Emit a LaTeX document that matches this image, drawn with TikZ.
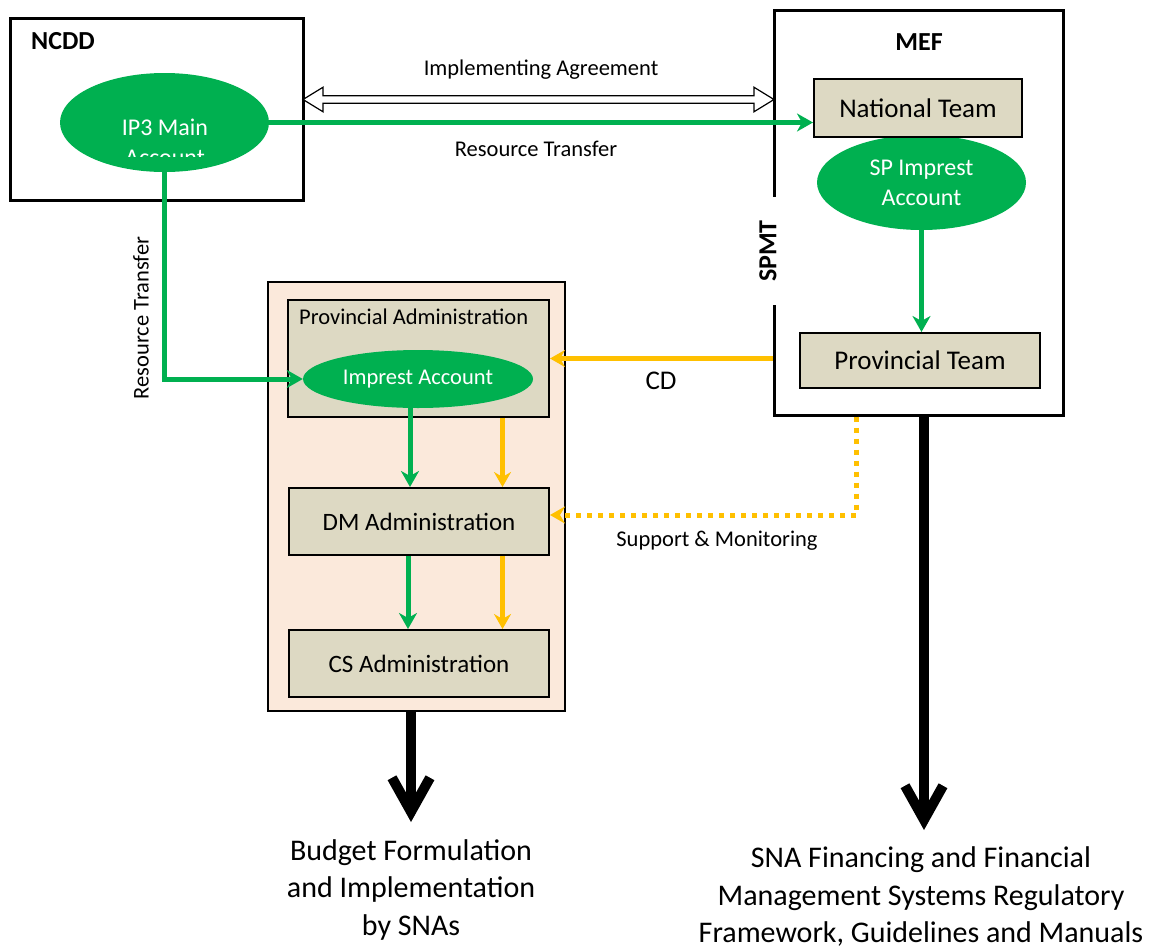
\documentclass[tikz,border=0pt]{standalone}
\usepackage{fontspec}
\setmainfont{Carlito}
\usetikzlibrary{shapes.geometric}
\usetikzlibrary{shapes.arrows}
\usetikzlibrary{arrows.meta}

\definecolor{accgreen}{RGB}{0,176,80}
\definecolor{accorange}{RGB}{255,192,0}
\definecolor{boxtan}{RGB}{221,217,195}
\definecolor{peach}{RGB}{251,233,219}

\begin{document}
\begin{tikzpicture}[x=1pt,y=1pt,yscale=-1,xscale=1,
  orgbox/.style={draw, line width=3pt, inner sep=0pt},
  tanbox/.style={draw, line width=2pt, fill=boxtan, inner sep=0pt},
  acct/.style={ellipse, fill=accgreen, inner sep=0pt, text=white, align=center, font=\fontsize{24}{30}\selectfont},
  gflow/.style={draw=accgreen, line width=5pt, -{Stealth[length=16pt,width=18pt,inset=5pt]}},
  oflow/.style={draw=accorange, line width=5pt, -{Stealth[length=15pt,width=17pt,inset=5pt]}},
  bigarrow/.style={line width=10pt, -{Straight Barb[length=34pt,width=38pt]}},
  lbl/.style={font=\fontsize{22.5}{27}\selectfont, inner sep=0pt},
  boxtxt/.style={font=\fontsize{25}{30}\selectfont},
  teamtxt/.style={font=\fontsize{27}{32}\selectfont},
  ttl/.style={font=\fontsize{26}{31}\selectfont\bfseries, inner sep=0pt},
  outtxt/.style={font=\fontsize{30}{37.5}\selectfont, align=center, inner sep=0pt}]
\useasboundingbox (0,0) rectangle (1159,948);

%NCDD
\node[orgbox, minimum width=293pt, minimum height=182pt] (ncdd) at (156.5,109) {};
\node[ttl] (ncddttl) at (63,41) {NCDD};
\node[acct, minimum width=209pt, minimum height=99pt] (ip3) at (164.5,122.5) {};
\begin{scope}
\clip (55,60) rectangle (275,156);
\node[acct, fill=none] (ip3txt) at (165,142) {IP3 Main\\Account};
\end{scope}

%MEF
\node[orgbox, minimum width=289pt, minimum height=405pt] (mef) at (918.5,212.5) {};
\node[ttl] (mefttl) at (919,42) {MEF};
\node[ttl, rotate=90, fill=white, minimum width=108pt, inner ysep=4pt] (spmt) at (768,251) {SPMT};
\node[acct, minimum width=209pt, minimum height=95pt] (spia) at (921.5,182.5) {SP Imprest\\Account};
\node[tanbox, teamtxt, minimum width=208pt, minimum height=58pt] (natl) at (918,108) {National Team};
\node[tanbox, teamtxt, minimum width=240pt, minimum height=55pt] (provteam) at (920,360.5) {Provincial Team};

%Province
\node[draw, line width=1.5pt, fill=peach, inner sep=0pt, minimum width=297pt, minimum height=429pt] (prov) at (416.5,496.5) {};
\node[tanbox, minimum width=261pt, minimum height=117pt] (pa) at (418.5,358.5) {};
\node[lbl, anchor=west] (patxt) at (299,317) {Provincial Administration};
\node[acct, font=\fontsize{22.5}{27}\selectfont, minimum width=230pt, minimum height=58pt] (imprest) at (418,379) {Imprest Account};
\node[tanbox, boxtxt, minimum width=260pt, minimum height=67pt] (dm) at (419,521.5) {DM Administration};
\node[tanbox, boxtxt, minimum width=260pt, minimum height=67pt] (cs) at (419,663.5) {CS Administration};

%Implementing Agreement
\node[double arrow, draw, fill=white, line width=1.2pt, inner xsep=0pt, inner ysep=3.2pt, minimum height=471pt, double arrow head extend=8.5pt, double arrow tip angle=63] (ia) at (538.5,99.5) {};

\coordinate (g1) at (410,0);
\coordinate (g2) at (408,0);
\coordinate (o1) at (502.5,0);
\coordinate (smturn) at (856,515);
\coordinate (budtip) at (411,822);
\coordinate (snatip) at (924,830);

%Flows
\draw[gflow] (ip3.east) -- (ip3.east -| natl.west);
\draw[gflow] (ip3.south) |- (imprest.west);
\draw[gflow] (spia.south) -- (spia.south |- provteam.north);
\draw[gflow] (g1 |- imprest.south) -- (g1 |- dm.north);
\draw[gflow] (g2 |- dm.south) -- (g2 |- cs.north);
\draw[oflow] (o1 |- pa.south) -- (o1 |- dm.north);
\draw[oflow] (o1 |- dm.south) -- (o1 |- cs.north);
\draw[oflow] (mef.west |- pa.east) -- (pa.east);
\draw[oflow, dash pattern=on 5pt off 6pt] (smturn |- mef.south) -- (smturn) -- (smturn -| dm.east);
\draw[bigarrow] (budtip |- prov.south) -- (budtip);
\draw[bigarrow] (snatip |- mef.south) -- (snatip);

% Text Node
\node[lbl] (iatxt) at (541,70) {Implementing Agreement};
\node[lbl] (rt1) at (536,149) {Resource Transfer};
\node[lbl, rotate=90] (rt2) at (141,318) {Resource Transfer};
\node[lbl, font=\fontsize{27}{32}\selectfont] (cdtxt) at (661,381) {CD};
\node[lbl] (smtxt) at (717,541) {Support \& Monitoring};
\node[outtxt] (budget) at (411,889.5) {Budget Formulation\\and Implementation\\by SNAs};
\node[outtxt] (snafin) at (921,896.5) {SNA Financing and Financial\\Management Systems Regulatory\\Framework, Guidelines and Manuals};

\end{tikzpicture}
\end{document}
